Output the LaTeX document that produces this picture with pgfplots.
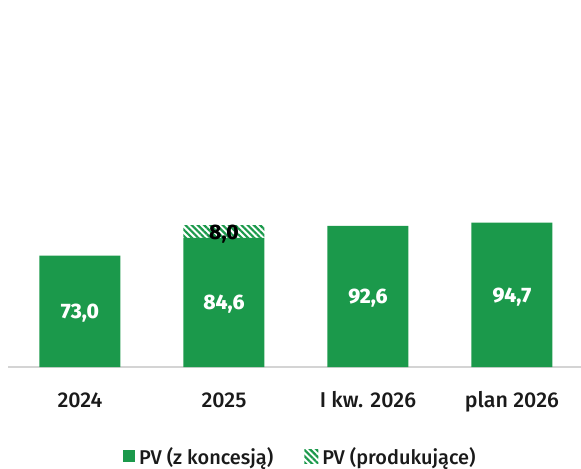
\documentclass[border=0pt]{standalone}
\usepackage{pgfplots}
\pgfplotsset{compat=1.18}
\usepackage{fontspec}
\setmainfont{Fira Sans}[UprightFont=* Medium, BoldFont=* ExtraBold]
\usetikzlibrary{patterns.meta}
\definecolor{pvgreen}{RGB}{27,153,75}
\definecolor{axisgray}{RGB}{212,212,212}
\definecolor{txt}{RGB}{26,26,26}
\begin{document}
\begin{tikzpicture}
\begin{axis}[
  at={(8bp,102bp)}, anchor=south west,
  scale only axis, width=573bp, height=366bp,
  ybar stacked, bar width=0.5625,
  ymin=0, ymax=240, xmin=-0.5, xmax=3.48,
  axis x line=bottom, axis y line=none,
  x axis line style={draw=axisgray, line width=1.5bp, -},
  xtick={0,1,2,3}, ytick=\empty, major tick length=0pt,
  xticklabels={2024,2025,I kw. 2026,plan 2026},
  xticklabel style={font=\fontsize{21.5}{26}\selectfont, text=txt, anchor=base, yshift=-40bp},
  legend columns=2,
  legend style={draw=none, fill=none, at={(0.512,-0.244)}, anchor=center,
    font=\fontsize{20}{24}\selectfont, text=txt,
    /tikz/every even column/.append style={column sep=27bp},
    nodes={inner sep=4bp}},
  clip=false,
]
\addplot[fill=pvgreen, draw=none,
  legend image code/.code={\fill[pvgreen] (0bp,-6bp) rectangle (12bp,6bp);}]
  coordinates {(0,73.0) (1,84.6) (2,92.6) (3,94.7)};
\addplot[draw=none, pattern={Lines[angle=-45,distance=4.4bp,line width=2.2bp]}, pattern color=pvgreen,
  legend image code/.code={\fill[pattern={Lines[angle=-45,distance=4.4bp,line width=2.2bp]}, pattern color=pvgreen] (0bp,-7bp) rectangle (14bp,7bp);}]
  coordinates {(0,0) (1,8.0) (2,0) (3,0)};
\legend{PV (z koncesją), PV (produkujące)}
\coordinate (l1) at (axis cs:0,36.5);
\coordinate (l2) at (axis cs:1,42.3);
\coordinate (l3) at (axis cs:1,88.6);
\coordinate (l4) at (axis cs:2,46.3);
\coordinate (l5) at (axis cs:3,47.35);
\end{axis}
\begin{scope}[every node/.style={font=\bfseries\fontsize{21}{24}\selectfont, yshift=-2bp}]
\node[text=white] at (l1) {73,0};
\node[text=white] at (l2) {84,6};
\node[text=black] at (l3) {8,0};
\node[text=white] at (l4) {92,6};
\node[text=white] at (l5) {94,7};
\end{scope}
\pgfresetboundingbox
\path[use as bounding box] (0,0) rectangle (581bp,469bp);
\end{tikzpicture}
\end{document}
